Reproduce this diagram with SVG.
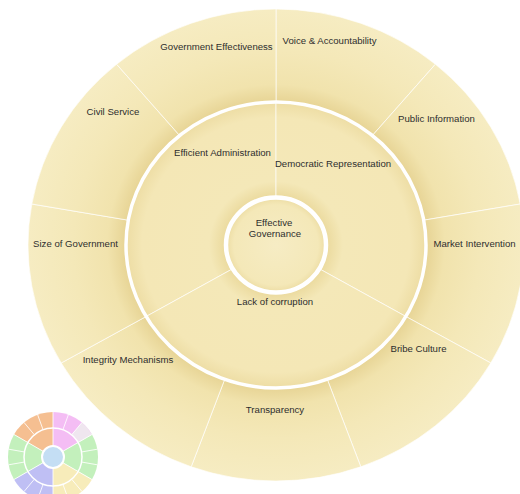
<svg xmlns="http://www.w3.org/2000/svg" width="520" height="494" viewBox="0 0 520 494">
  <style>
    .seg { fill: url(#sunFill); stroke: #ffffff; stroke-opacity: 0.65; stroke-width: 1; }
    .lbl { font-family: "Liberation Sans", Arial, sans-serif; font-size: 9.6px; fill: #2e2e2e; text-anchor: middle; }
    .ring { fill: none; stroke: #ffffff; }
    .mini { stroke: none; opacity: 0.85; }
    .mdiv { stroke: #ffffff; stroke-width: 1; stroke-opacity: 0.85; }
  </style>
  <defs>
    <radialGradient id="sunFill" gradientUnits="userSpaceOnUse" cx="276" cy="245" r="248" gradientTransform="translate(276 245) scale(1 0.952) translate(-276 -245)">
      <stop offset="0" stop-color="#F6ECC4"/>
      <stop offset="0.17" stop-color="#F4E8B8"/>
      <stop offset="0.2" stop-color="#EDDDA4"/>
      <stop offset="0.205" stop-color="#EBDA9E"/>
      <stop offset="0.27" stop-color="#F4E8B8"/>
      <stop offset="0.54" stop-color="#F4E7B6"/>
      <stop offset="0.598" stop-color="#EEDEA6"/>
      <stop offset="0.606" stop-color="#E7D495"/>
      <stop offset="0.68" stop-color="#F1E3AD"/>
      <stop offset="0.82" stop-color="#F4E8B8"/>
      <stop offset="1" stop-color="#F6ECC2"/>
    </radialGradient>
  </defs>

  <!-- outer ring -->
  <g id="voice-accountability">
    <path class="seg" d="M276 9 A248 236 0 0 1 435.4 64.2 L372.4 135.5 A150 143 0 0 0 276 102 Z"/>
    <text class="lbl" x="329.5" y="44">Voice &amp; Accountability</text>
  </g>
  <g id="public-information">
    <path class="seg" d="M435.4 64.2 A248 236 0 0 1 520.2 204 L423.7 220.2 A150 143 0 0 0 372.4 135.5 Z"/>
    <text class="lbl" x="436.5" y="122">Public Information</text>
  </g>
  <g id="market-intervention">
    <path class="seg" d="M520.2 204 A248 236 0 0 1 490.8 363 L405.9 316.5 A150 143 0 0 0 423.7 220.2 Z"/>
    <text class="lbl" x="474.5" y="247">Market Intervention</text>
  </g>
  <g id="bribe-culture">
    <path class="seg" d="M490.8 363 A248 236 0 0 1 360.8 466.8 L327.3 379.4 A150 143 0 0 0 405.9 316.5 Z"/>
    <text class="lbl" x="418.5" y="352">Bribe Culture</text>
  </g>
  <g id="transparency">
    <path class="seg" d="M360.8 466.8 A248 236 0 0 1 191.2 466.8 L224.7 379.4 A150 143 0 0 0 327.3 379.4 Z"/>
    <text class="lbl" x="275" y="413">Transparency</text>
  </g>
  <g id="integrity-mechanisms">
    <path class="seg" d="M191.2 466.8 A248 236 0 0 1 61.2 363 L146.1 316.5 A150 143 0 0 0 224.7 379.4 Z"/>
    <text class="lbl" x="128" y="363">Integrity Mechanisms</text>
  </g>
  <g id="size-of-government">
    <path class="seg" d="M61.2 363 A248 236 0 0 1 31.8 204 L128.3 220.2 A150 143 0 0 0 146.1 316.5 Z"/>
    <text class="lbl" x="75.5" y="247">Size of Government</text>
  </g>
  <g id="civil-service">
    <path class="seg" d="M31.8 204 A248 236 0 0 1 116.6 64.2 L179.6 135.5 A150 143 0 0 0 128.3 220.2 Z"/>
    <text class="lbl" x="113" y="115">Civil Service</text>
  </g>
  <g id="government-effectiveness">
    <path class="seg" d="M116.6 64.2 A248 236 0 0 1 276 9 L276 102 A150 143 0 0 0 179.6 135.5 Z"/>
    <text class="lbl" x="216.5" y="50">Government Effectiveness</text>
  </g>

  <!-- middle ring -->
  <g id="efficient-administration">
    <path class="seg" d="M146.1 316.5 A150 143 0 0 1 276 102 L276 197.5 A50 47.5 0 0 0 232.7 268.75 Z"/>
    <text class="lbl" x="222.5" y="156">Efficient Administration</text>
  </g>
  <g id="democratic-representation">
    <path class="seg" d="M276 102 A150 143 0 0 1 405.9 316.5 L319.3 268.75 A50 47.5 0 0 0 276 197.5 Z"/>
    <text class="lbl" x="333" y="167">Democratic Representation</text>
  </g>
  <g id="lack-of-corruption">
    <path class="seg" d="M405.9 316.5 A150 143 0 0 1 146.1 316.5 L232.7 268.75 A50 47.5 0 0 0 319.3 268.75 Z"/>
    <text class="lbl" x="275" y="305">Lack of corruption</text>
  </g>

  <!-- ring separators -->
  <g id="rings">
    <ellipse class="ring" cx="276" cy="245" rx="150" ry="143" stroke-width="3.5"/>
  </g>

  <!-- center -->
  <g id="effective-governance">
    <ellipse cx="276" cy="245" rx="50" ry="47.5" fill="url(#sunFill)" stroke="#ffffff" stroke-width="4.5"/>
    <text class="lbl" x="274" y="226">Effective</text>
    <text class="lbl" x="275" y="237">Governance</text>
  </g>

  <!-- overview thumbnail -->
  <g id="overview">
    <path class="mini" fill="#F3B47E" d="M53 457 L14.03 434.5 A45 45 0 0 1 53 412 Z"/>
    <path class="mini" fill="#F2B2F2" d="M53 457 L53 412 A45 45 0 0 1 91.97 434.5 Z"/>
    <path class="mini" fill="#B9EDB0" d="M53 457 L91.97 434.5 A45 45 0 0 1 91.97 479.5 Z"/>
    <path class="mini" fill="#F6E9AE" d="M53 457 L91.97 479.5 A45 45 0 0 1 53 502 Z"/>
    <path class="mini" fill="#B4B4F2" d="M53 457 L53 502 A45 45 0 0 1 14.03 479.5 Z"/>
    <path class="mini" fill="#B9EDB0" d="M53 457 L14.03 479.5 A45 45 0 0 1 14.03 434.5 Z"/>
    <path class="mini" fill="#EDEDED" d="M81.93 422.53 A45 45 0 0 1 91.97 434.5 L78.11 442.5 A29 29 0 0 0 71.64 434.79 Z"/>
    <line class="mdiv" x1="34.36" y1="434.79" x2="24.07" y2="422.53"/>
    <line class="mdiv" x1="43.08" y1="429.75" x2="37.61" y2="414.71"/>
    <line class="mdiv" x1="62.92" y1="429.75" x2="68.39" y2="414.71"/>
    <line class="mdiv" x1="71.64" y1="434.79" x2="81.93" y2="422.53"/>
    <line class="mdiv" x1="81.56" y1="451.97" x2="97.32" y2="449.19"/>
    <line class="mdiv" x1="81.56" y1="462.03" x2="97.32" y2="464.81"/>
    <line class="mdiv" x1="71.64" y1="479.21" x2="81.93" y2="491.47"/>
    <line class="mdiv" x1="62.92" y1="484.25" x2="68.39" y2="499.29"/>
    <line class="mdiv" x1="43.08" y1="484.25" x2="37.61" y2="499.29"/>
    <line class="mdiv" x1="34.36" y1="479.21" x2="24.07" y2="491.47"/>
    <line class="mdiv" x1="24.44" y1="462.03" x2="8.68" y2="464.81"/>
    <line class="mdiv" x1="24.44" y1="451.97" x2="8.68" y2="449.19"/>
    <line class="mdiv" x1="62.53" y1="462.5" x2="91.97" y2="479.5"/>
    <line class="mdiv" x1="53" y1="468" x2="53" y2="502"/>
    <line class="mdiv" x1="43.47" y1="462.5" x2="14.03" y2="479.5"/>
    <line class="mdiv" x1="43.47" y1="451.5" x2="14.03" y2="434.5"/>
    <line class="mdiv" x1="53" y1="446" x2="53" y2="412"/>
    <line class="mdiv" x1="62.53" y1="451.5" x2="91.97" y2="434.5"/>
    <circle cx="53" cy="457" r="29" fill="none" stroke="#ffffff" stroke-width="1.5"/>
    <circle cx="53" cy="457" r="11" fill="#C4DEF4" stroke="#ffffff" stroke-width="2"/>
  </g>
</svg>
